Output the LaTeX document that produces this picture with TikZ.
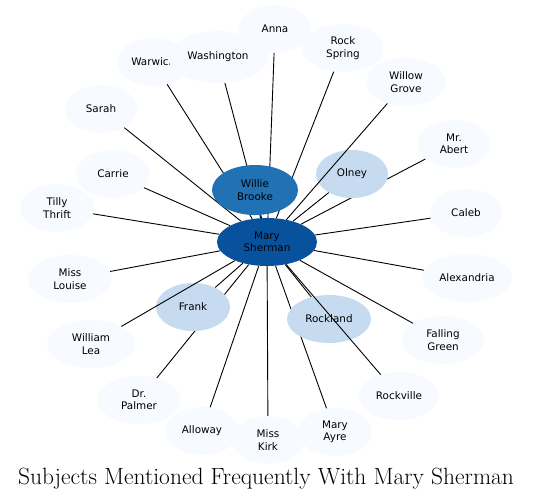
\documentclass[tikz,border=0pt]{standalone}
\usepackage{fontspec}
\newfontfamily\nodefont{DejaVu Sans}
\usetikzlibrary{shapes.geometric}
\definecolor{cdark}{HTML}{08519C}
\definecolor{cmid}{HTML}{2171B5}
\definecolor{clight}{HTML}{C6DBEF}
\definecolor{cpale}{HTML}{F7FBFF}
\pgfdeclarelayer{edgelayer}
\pgfsetlayers{edgelayer,main}
\begin{document}
\begin{tikzpicture}[x=1pt,y=-1pt,
  ent/.style={ellipse, inner sep=0pt, minimum width=72pt, minimum height=48pt,
    fill=cpale, draw=none, align=center,
    font=\nodefont\fontsize{10.4}{12.3}\selectfont},
  hub/.style={ent, fill=cdark, minimum width=100pt},
  sub/.style={ent, fill=cmid, minimum width=86pt, minimum height=50pt},
  mid/.style={ent, fill=clight},
  link/.style={draw=black, line width=0.9pt},
  titlefont/.style={font=\fontsize{23.5}{26}\selectfont}
]
\useasboundingbox (0,0) rectangle (533,501);

% central node
\node[hub] (mary) at (267,242) {Mary\\Sherman};

% outer nodes
\node[ent] (warwick) at (153,62) {Warwick};
\node[ent, minimum width=100pt, minimum height=52pt] (washington) at (218,57) {Washington};
\node[ent] (anna) at (275,29) {Anna};
\node[ent, minimum width=82pt] (rockspring) at (343,48) {Rock\\Spring};
\node[ent, minimum width=80pt] (willowgrove) at (406,82) {Willow\\Grove};
\node[ent] (abert) at (454,144) {Mr.\\Abert};
\node[ent] (caleb) at (466,213) {Caleb};
\node[ent, minimum width=90pt] (alexandria) at (467,278) {Alexandria};
\node[ent, minimum width=82pt] (falling) at (443,340) {Falling\\Green};
\node[ent, minimum width=80pt] (rockville) at (399,396) {Rockville};
\node[ent, minimum width=74pt] (mayre) at (335,432) {Mary\\Ayre};
\node[ent] (kirk) at (268,440) {Miss\\Kirk};
\node[ent, minimum width=74pt] (alloway) at (202,431) {Alloway};
\node[ent, minimum width=84pt] (palmer) at (139,400) {Dr.\\Palmer};
\node[ent, minimum width=88pt] (lea) at (91,344) {William\\Lea};
\node[ent, minimum width=84pt] (louise) at (70,279) {Miss\\Louise};
\node[ent, minimum width=74pt] (tilly) at (57,208) {Tilly\\Thrift};
\node[ent, minimum width=74pt] (carrie) at (113,174) {Carrie};
\node[ent] (sarah) at (101,109) {Sarah};

% coloured intermediate nodes
\node[sub] (willie) at (255,190) {Willie\\Brooke};
\node[mid] (olney) at (352,174) {Olney};
\node[mid, minimum width=74pt] (frank) at (193,307) {Frank};
\node[mid, minimum width=84pt] (rockland) at (329,319) {Rockland};

% edges beneath the nodes
\begin{pgfonlayer}{edgelayer}
\foreach \t in {warwick,washington,anna,rockspring,abert,caleb,alexandria,
  falling,mayre,kirk,alloway,palmer,louise,tilly,carrie,sarah,
  willie,olney,frank,rockland}
  \draw[link] (mary) -- (\t);
\end{pgfonlayer}

% edges drawn over the nodes
\draw[link] (mary) -- (willowgrove);
\draw[link] (mary) -- (rockville);
\draw[link] (mary) -- (lea);

% title
\node[titlefont] (title) at (266,479) {Subjects Mentioned Frequently With Mary Sherman};
\end{tikzpicture}
\end{document}
